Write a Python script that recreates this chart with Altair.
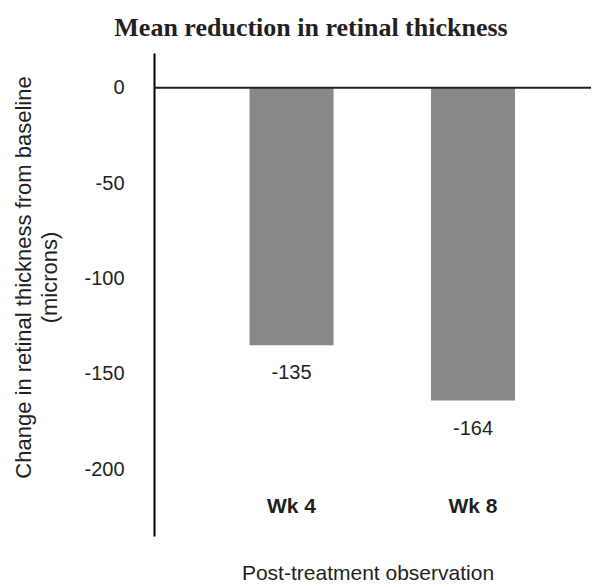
import altair as alt
import pandas as pd

weeks = ["Wk 4", "Wk 8"]
changes = [-135, -164]
tick_values = [0, -50, -100, -150, -200]

df = pd.DataFrame({"week": weeks, "change": changes})

TXT = "#231f20"
SANS = "Liberation Sans"

x_enc = alt.X(
    "week:N",
    sort=weeks,
    scale=alt.Scale(paddingInner=0.537, paddingOuter=0.4724, align=0.557),
    axis=alt.Axis(
        title="Post-treatment observation",
        domain=False, ticks=False, grid=False,
        labelAngle=0, labelFont=SANS, labelFontSize=21, labelFontWeight="bold",
        labelColor=TXT, labelBaseline="middle", labelPadding=-30,
        titleFont=SANS, titleFontSize=21, titleFontWeight="normal", titleColor=TXT,
        titleX=213.5, titleY=37, titleBaseline="middle", titleAlign="center",
    ),
)

y_enc = alt.Y(
    "change:Q",
    scale=alt.Scale(domain=[-235, 18.2], nice=False, zero=False),
    axis=alt.Axis(
        title=["Change in retinal thickness from baseline", "(microns)"],
        values=tick_values, domain=True, domainColor="#000000", domainWidth=2,
        ticks=False, grid=False, labelExpr="'' + datum.value",
        labelFont=SANS, labelFontSize=20, labelColor=TXT, labelPadding=30,
        titleFont=SANS, titleFontSize=22, titleFontWeight="normal", titleColor=TXT,
        titleAngle=-90, titleX=-131, titleY=224, titleAlign="center",
        titleBaseline="middle", titleLineHeight=26,
    ),
)

bars = alt.Chart(df).mark_bar(color="#888888").encode(x=x_enc, y=y_enc)

labels = alt.Chart(df).transform_calculate(
    lbl="'' + datum.change"
).mark_text(
    font=SANS, fontSize=20, color=TXT, baseline="middle", dy=28
).encode(x=alt.X("week:N", sort=weeks), y="change:Q", text="lbl:N")

zero = alt.Chart(pd.DataFrame({"z": [0]})).mark_rule(
    color="#231f20", strokeWidth=2
).encode(y="z:Q")

chart = alt.layer(bars, labels, zero).properties(
    width=437,
    height=483,
    background="white",
    title=alt.TitleParams(
        "Mean reduction in retinal thickness",
        font="Liberation Serif", fontSize=26, fontWeight="bold", color=TXT,
        anchor="middle", dx=-61.5, offset=-9, baseline="alphabetic",
    ),
    autosize=alt.AutoSizeParams(type="none"),
    padding={"left": 146, "top": 45, "right": 0, "bottom": 51},
).configure_view(strokeWidth=0, strokeOpacity=0)

chart.save("out.html", embed_options={"renderer": "svg", "actions": False})
